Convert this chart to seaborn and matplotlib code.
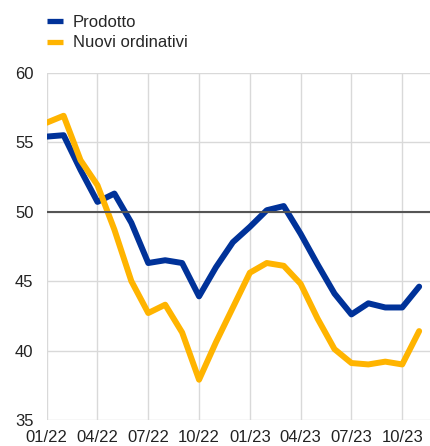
import numpy as np
import pandas as pd
import seaborn as sns
import matplotlib.pyplot as plt
from matplotlib.lines import Line2D

months = ['01/22', '02/22', '03/22', '04/22', '05/22', '06/22', '07/22', '08/22',
          '09/22', '10/22', '11/22', '12/22', '01/23', '02/23', '03/23', '04/23',
          '05/23', '06/23', '07/23', '08/23', '09/23', '10/23', '11/23']
prodotto = [55.4, 55.5, 53.0, 50.7, 51.3, 49.2, 46.3, 46.5, 46.3, 43.9, 46.0, 47.8,
            48.9, 50.1, 50.4, 48.4, 46.2, 44.1, 42.6, 43.4, 43.1, 43.1, 44.6]
ordinativi = [56.4, 56.9, 53.7, 51.9, 48.7, 45.0, 42.7, 43.3, 41.3, 37.9, 40.6, 43.1,
              45.6, 46.3, 46.1, 44.8, 42.3, 40.1, 39.1, 39.0, 39.2, 39.0, 41.4]
tick_labels = ['01/22', '04/22', '07/22', '10/22', '01/23', '04/23', '07/23', '10/23']

df = pd.DataFrame({'idx': np.arange(len(months)),
                   'Prodotto': prodotto,
                   'Nuovi ordinativi': ordinativi})
long = df.melt(id_vars='idx', var_name='serie', value_name='valore')

sns.set_style('whitegrid')
plt.rcParams['font.family'] = ['Liberation Sans', 'DejaVu Sans']

fig = plt.figure(figsize=(4.31, 4.46), dpi=100)
ax = fig.add_axes([0.1083, 0.0583, 0.8917, 0.7787])

sns.lineplot(data=long, x='idx', y='valore', hue='serie',
             palette=['#003299', '#ffb400'], linewidth=4.3, ax=ax,
             legend=False)
ax.axhline(50, color='#555555', linewidth=1.5, zorder=3)

ax.set_xlim(0, 22.7)
ax.set_ylim(35, 60)
ax.set_yticks([35, 40, 45, 50, 55, 60])
ax.set_xticks(np.arange(0, 22, 3))
ax.set_xticklabels(tick_labels)
ax.set_xlabel('')
ax.set_ylabel('')
ax.grid(color='#d9d9d9', linewidth=1)
for s in ax.spines.values():
    s.set_visible(False)
ax.tick_params(axis='both', length=0, labelsize=12, colors='#222222')
ax.tick_params(axis='y', pad=9.5)
ax.tick_params(axis='x', pad=7)

handles = [Line2D([], [], color='#003299', linewidth=3.8, solid_capstyle='butt'),
           Line2D([], [], color='#ffb400', linewidth=3.8, solid_capstyle='butt')]
fig.legend(handles, ['Prodotto', 'Nuovi ordinativi'], loc='upper left',
           bbox_to_anchor=(0.074, 1.0), frameon=False, fontsize=12,
           handlelength=0.96, handletextpad=0.6, labelspacing=0.33)

fig.savefig('out.png', dpi=100)
